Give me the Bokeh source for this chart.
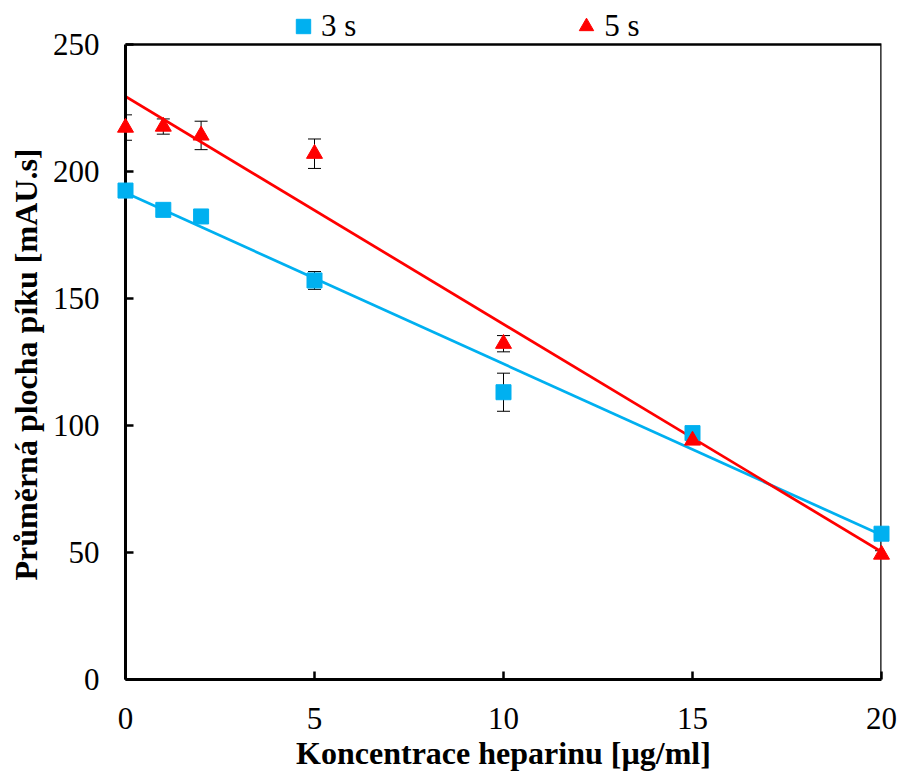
import numpy as np
from bokeh.plotting import figure
from bokeh.models import (Range1d, FixedTicker, Whisker, TeeHead, ColumnDataSource,
                          Legend, LegendItem, BoxAnnotation, Title)
from bokeh.embed import file_html
from bokeh.resources import INLINE

# ---- data ----
conc = [0, 1, 2, 5, 10, 15, 20]
area_3s = [192.5, 184.9, 182.3, 157.1, 113.1, 97.0, 57.4]
err_3s = [1.5, 1.5, 1.5, 3.5, 7.5, 1.5, 1.5]
area_5s = [217.3, 217.7, 214.2, 207.0, 132.2, 94.1, 49.2]
err_5s = [5.0, 3.0, 5.6, 5.8, 3.2, 1.5, 1.5]
x_ticks = [0, 5, 10, 15, 20]
y_ticks = [0, 50, 100, 150, 200, 250]
series_labels = ["3 s", "5 s"]
x_title = "Koncentrace heparinu [µg/ml]"
y_title = "Průměrná plocha píku [mAU.s]"

FONT = "Liberation Serif"
BLUE = "#00B0F0"
RED = "#FF0000"

X_MIN, X_MAX = 0, 20
Y_MIN, Y_MAX = 0, 250
# the frame reaches up to the canvas top so that the legend can sit above the box
BOX_PX, TOP_PX = 635, 44
Y_FRAME_MAX = Y_MAX * (BOX_PX + TOP_PX) / BOX_PX

p = figure(width=900, height=774, output_backend="svg", toolbar_location=None,
           x_range=Range1d(X_MIN, X_MAX), y_range=Range1d(Y_MIN, Y_FRAME_MAX),
           min_border_left=124, min_border_right=19, min_border_top=0,
           min_border_bottom=95)
p.xgrid.visible = False
p.ygrid.visible = False
p.outline_line_color = None
p.background_fill_color = "white"
p.border_fill_color = "white"

# plot box (0..20 x 0..250)
p.add_layout(BoxAnnotation(left=X_MIN, right=X_MAX, bottom=Y_MIN, top=Y_MAX,
                           fill_alpha=0, line_color="black", line_alpha=1,
                           line_width=2.5, level="underlay"))

src3 = ColumnDataSource(dict(x=conc, y=area_3s,
                             lo=[a - e for a, e in zip(area_3s, err_3s)],
                             hi=[a + e for a, e in zip(area_3s, err_3s)]))
src5 = ColumnDataSource(dict(x=conc, y=area_5s,
                             lo=[a - e for a, e in zip(area_5s, err_5s)],
                             hi=[a + e for a, e in zip(area_5s, err_5s)]))

for src in (src3, src5):
    w = Whisker(base="x", upper="hi", lower="lo", source=src, level="underlay",
                line_color="black", line_width=1,
                upper_head=TeeHead(size=13, line_color="black", line_width=1),
                lower_head=TeeHead(size=13, line_color="black", line_width=1))
    p.add_layout(w)

# linear trend lines (least squares fit of each series)
xr = np.array([min(conc), max(conc)], dtype=float)
for ys, col in ((area_3s, BLUE), (area_5s, RED)):
    k, q = np.polyfit(conc, ys, 1)
    p.line(xr, k * xr + q, line_color=col, line_width=2.75)

r3 = p.scatter("x", "y", source=src3, marker="square", size=15,
               fill_color=BLUE, line_color=BLUE, level="overlay")
r5 = p.scatter("x", "y", source=src5, marker="triangle", size=16,
               fill_color=RED, line_color=RED, level="overlay")

legend = Legend(items=[LegendItem(label=series_labels[0], renderers=[r3]),
                       LegendItem(label=series_labels[1], renderers=[r5])],
                orientation="horizontal", location=(160, BOX_PX),
                glyph_width=36, glyph_height=36, label_standoff=0, spacing=212,
                padding=0, margin=0, border_line_color=None,
                background_fill_alpha=0, label_text_font=FONT,
                label_text_font_size="31px", label_text_color="black",
                label_height=36)
p.add_layout(legend)

for ax in (p.xaxis[0], p.yaxis[0]):
    ax.axis_line_width = 3
    ax.axis_line_color = "black"
    ax.major_tick_in = 8
    ax.major_tick_out = 0
    ax.major_tick_line_width = 2.5
    ax.major_tick_line_color = "black"
    ax.minor_tick_line_color = None
    ax.major_label_text_font = FONT
    ax.major_label_text_font_size = "31px"
    ax.major_label_text_color = "black"
    ax.axis_label_text_font = FONT
    ax.axis_label_text_font_size = "32px"
    ax.axis_label_text_font_style = "bold"
    ax.axis_label_text_color = "black"

p.xaxis.ticker = FixedTicker(ticks=x_ticks)
p.yaxis.ticker = FixedTicker(ticks=y_ticks)
p.yaxis.bounds = (Y_MIN, Y_MAX)
p.xaxis.axis_label = x_title
p.xaxis.major_label_standoff = 28
p.xaxis.axis_label_standoff = 3
p.yaxis.major_label_standoff = 26

# y-axis title, centred on the 0..250 box rather than on the taller frame
p.add_layout(Title(text=y_title, align="left", offset=99, standoff=11,
                   text_font=FONT, text_font_size="32px", text_font_style="bold",
                   text_color="black"), "left")

open("out.html", "w").write(file_html(p, INLINE))
